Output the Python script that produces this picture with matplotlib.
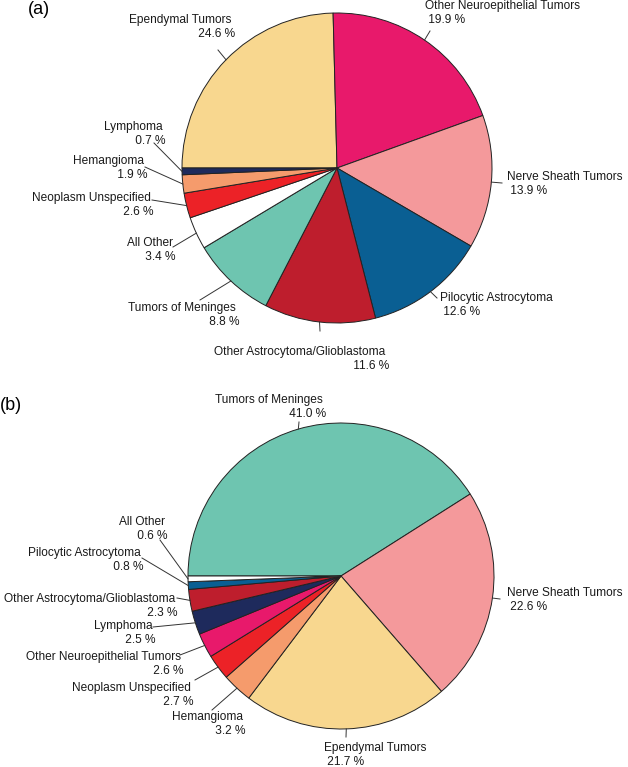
import matplotlib
matplotlib.use("Agg")
import matplotlib.pyplot as plt
import numpy as np

plt.rcParams['font.family'] = ['Liberation Sans', 'DejaVu Sans']

W, H = 628, 767

# data: panel (a)
labels_a = ["Ependymal Tumors", "Other Neuroepithelial Tumors", "Nerve Sheath Tumors",
            "Pilocytic Astrocytoma", "Other Astrocytoma/Glioblastoma", "Tumors of Meninges",
            "All Other", "Neoplasm Unspecified", "Hemangioma", "Lymphoma"]
pct_a = [24.6, 19.9, 13.9, 12.6, 11.6, 8.8, 3.4, 2.6, 1.9, 0.7]

# data: panel (b)
labels_b = ["Tumors of Meninges", "Nerve Sheath Tumors", "Ependymal Tumors", "Hemangioma",
            "Neoplasm Unspecified", "Other Neuroepithelial Tumors", "Lymphoma",
            "Other Astrocytoma/Glioblastoma", "Pilocytic Astrocytoma", "All Other"]
pct_b = [41.0, 22.6, 21.7, 3.2, 2.7, 2.6, 2.5, 2.3, 0.8, 0.6]

COLORS = {
    "Ependymal Tumors": "#F8D78F",
    "Other Neuroepithelial Tumors": "#E8196B",
    "Nerve Sheath Tumors": "#F4999B",
    "Pilocytic Astrocytoma": "#0A5F93",
    "Other Astrocytoma/Glioblastoma": "#BE1E2D",
    "Tumors of Meninges": "#6EC5B0",
    "All Other": "#FFFFFF",
    "Neoplasm Unspecified": "#EC2227",
    "Hemangioma": "#F59B6C",
    "Lymphoma": "#1E2A5C",
}

# layout in pixels (from top-left): pie centre + radius
PIE_A = (337, 168, 155)
PIE_B = (341, 576, 153)

# label placement: text x, text y (block centre), alignment, leader end x, leader end y
POS_A = [(235, 27, "right", 218, 50),
         (425, 13, "left", 430, 31),
         (507, 184, "left", 502, 183),
         (440, 305, "left", 437, 298),
         (389, 359, "right", 320, 331),
         (239, 315, "right", 200, 300),
         (176, 250, "right", 173, 247),
         (154, 205, "right", 152, 200),
         (147, 168, "right", 145, 167),
         (166, 134, "right", 154, 143)]

POS_B = [(326, 407, "right", 299, 422),
         (507, 600, "left", 500, 599),
         (324, 755, "left", 346, 737),
         (246, 724, "right", 212, 710),
         (194, 695, "right", 195, 680),
         (184, 664, "right", 180, 655),
         (156, 633, "right", 153, 627),
         (178, 606, "right", 177, 598),
         (144, 560, "right", 142, 558),
         (168, 529, "right", 160, 540)]

FONT = 8.6
LINE_COLOR = "#333333"


def draw_pie(ax, labels, pct, pie, positions):
    cx, cy, r = pie
    cy = H - cy
    ax.pie(pct, colors=[COLORS[l] for l in labels], startangle=180, counterclock=False,
           center=(cx, cy), radius=r,
           wedgeprops=dict(edgecolor="#222222", linewidth=0.7))

    frac = np.array(pct) / np.sum(pct)
    mids = 180 - 360 * (np.cumsum(frac) - frac / 2)
    for lab, p, mid, (tx, ty, ha, lx, ly) in zip(labels, pct, mids, positions):
        sx = cx + r * np.cos(np.radians(mid))
        sy = cy + r * np.sin(np.radians(mid))
        ax.plot([sx, lx], [sy, H - ly], color=LINE_COLOR, lw=0.7)
        # trailing/leading blanks mimic the offset of the two lines in the original
        txt = f"{lab} \n {p:.1f} %" if ha == "right" else f"{lab}\n {p:.1f} %"
        ax.text(tx, H - ty, txt, ha=ha, va="center",
                multialignment=ha, fontsize=FONT, color="#1a1a1a", linespacing=1.2)


fig = plt.figure(figsize=(W / 100, H / 100), dpi=100)
ax = fig.add_axes([0, 0, 1, 1])

draw_pie(ax, labels_a, pct_a, PIE_A, POS_A)
draw_pie(ax, labels_b, pct_b, PIE_B, POS_B)

ax.text(28, H - 10, "(a)", fontsize=13, ha="left", va="center")
ax.text(0, H - 406, "(b)", fontsize=13, ha="left", va="center")

ax.set_xlim(0, W)
ax.set_ylim(0, H)
ax.set_aspect("equal")
ax.axis("off")

fig.savefig("out.png", dpi=100)
